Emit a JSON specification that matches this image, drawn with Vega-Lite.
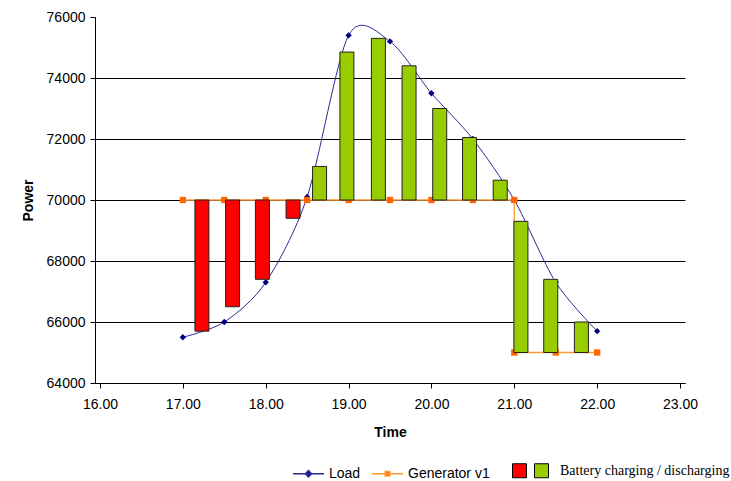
{
  "$schema": "https://vega.github.io/schema/vega-lite/v6.json",
  "width": 590,
  "height": 366,
  "autosize": {"type": "none"},
  "padding": {"left": 95, "top": 17, "right": 46, "bottom": 98},
  "background": "white",
  "config": {
    "view": {"stroke": null},
    "font": "Liberation Sans",
    "axis": {
      "labelFont": "Liberation Sans",
      "labelFontSize": 14,
      "labelColor": "#000",
      "titleFont": "Liberation Sans",
      "titleFontSize": 14,
      "titleFontWeight": "bold",
      "titleColor": "#000",
      "domainColor": "#000",
      "tickColor": "#000",
      "tickSize": 5
    }
  },
  "datasets": {
    "load": [
      {"series": "Load", "time": 17.0, "power": 65500},
      {"series": "Load", "time": 17.5, "power": 66000},
      {"series": "Load", "time": 18.0, "power": 67300},
      {"series": "Load", "time": 18.5, "power": 70100},
      {"series": "Load", "time": 19.0, "power": 75400},
      {"series": "Load", "time": 19.5, "power": 75200},
      {"series": "Load", "time": 20.0, "power": 73500},
      {"series": "Load", "time": 20.5, "power": 72000},
      {"series": "Load", "time": 21.0, "power": 70000},
      {"series": "Load", "time": 21.5, "power": 67300},
      {"series": "Load", "time": 22.0, "power": 65700}
    ],
    "gen": [
      {"series": "Generator v1", "ord": 1, "time": 17.0, "power": 70000},
      {"series": "Generator v1", "ord": 2, "time": 17.5, "power": 70000},
      {"series": "Generator v1", "ord": 3, "time": 18.0, "power": 70000},
      {"series": "Generator v1", "ord": 4, "time": 18.5, "power": 70000},
      {"series": "Generator v1", "ord": 5, "time": 19.0, "power": 70000},
      {"series": "Generator v1", "ord": 6, "time": 19.5, "power": 70000},
      {"series": "Generator v1", "ord": 7, "time": 20.0, "power": 70000},
      {"series": "Generator v1", "ord": 8, "time": 20.5, "power": 70000},
      {"series": "Generator v1", "ord": 9, "time": 21.0, "power": 70000},
      {"series": "Generator v1", "ord": 10, "time": 21.0, "power": 65000},
      {"series": "Generator v1", "ord": 11, "time": 21.5, "power": 65000},
      {"series": "Generator v1", "ord": 12, "time": 22.0, "power": 65000}
    ],
    "battery": [
      {"kind": "charging", "time": 17.23, "low": 65700, "high": 70000},
      {"kind": "charging", "time": 17.6, "low": 66500, "high": 70000},
      {"kind": "charging", "time": 17.96, "low": 67400, "high": 70000},
      {"kind": "charging", "time": 18.33, "low": 69400, "high": 70000},
      {"kind": "discharging", "time": 18.65, "low": 70000, "high": 71100},
      {"kind": "discharging", "time": 18.98, "low": 70000, "high": 74850},
      {"kind": "discharging", "time": 19.36, "low": 70000, "high": 75300},
      {"kind": "discharging", "time": 19.73, "low": 70000, "high": 74400},
      {"kind": "discharging", "time": 20.1, "low": 70000, "high": 73000},
      {"kind": "discharging", "time": 20.46, "low": 70000, "high": 72050},
      {"kind": "discharging", "time": 20.83, "low": 70000, "high": 70650},
      {"kind": "discharging", "time": 21.08, "low": 65000, "high": 69300},
      {"kind": "discharging", "time": 21.44, "low": 65000, "high": 67400},
      {"kind": "discharging", "time": 21.81, "low": 65000, "high": 66000}
    ]
  },
  "encoding": {
    "x": {
      "field": "time",
      "type": "quantitative",
      "scale": {"domain": [16, 23], "nice": false, "zero": false},
      "axis": {
        "values": [16, 17, 18, 19, 20, 21, 22, 23],
        "format": ".2f",
        "title": "Time",
        "grid": false,
        "labelPadding": 9,
        "titlePadding": 14
      }
    },
    "y": {
      "field": "power",
      "type": "quantitative",
      "scale": {"domain": [64000, 76000], "nice": false, "zero": false},
      "axis": {
        "values": [64000, 66000, 68000, 70000, 72000, 74000, 76000],
        "format": "d",
        "title": "Power",
        "labelPadding": 5,
        "titlePadding": 11,
        "grid": true,
        "gridColor": {"condition": {"test": "datum.value >= 76000", "value": "transparent"}, "value": "#000"},
        "gridWidth": 1,
        "gridOpacity": 1
      }
    }
  },
  "layer": [
    {
      "data": {"name": "load"},
      "mark": {"type": "line", "interpolate": "cardinal", "tension": 0.15, "strokeWidth": 1, "clip": true},
      "encoding": {
        "color": {
          "field": "series",
          "type": "nominal",
          "scale": {"domain": ["Load", "Generator v1"], "range": ["#2a2a96", "#ff9a33"]},
          "legend": {
            "title": null,
            "orient": "none",
            "legendX": 197,
            "legendY": 440,
            "direction": "horizontal",
            "symbolSize": 961,
            "symbolStrokeWidth": 1.5,
            "labelFont": "Liberation Sans",
            "labelFontSize": 14,
            "labelColor": "#000",
            "labelOffset": 4,
            "columnPadding": 8,
            "encode": {
              "symbols": {
                "update": {
                  "shape": {"signal": "datum.value === 'Load' ? 'M-1,0H1M-0.2,0L0,-0.2L0.2,0L0,0.2Z' : 'M-1,0H1M-0.15,-0.15H0.15V0.15H-0.15Z'"},
                  "fill": {"signal": "datum.value === 'Load' ? '#000080' : '#ff6600'"},
                  "stroke": {"signal": "datum.value === 'Load' ? '#2a2a96' : '#ff9a33'"},
                  "strokeWidth": {"value": 1.5}
                }
              }
            }
          }
        }
      }
    },
    {
      "data": {"name": "gen"},
      "mark": {"type": "line", "strokeWidth": 1.3},
      "encoding": {
        "color": {"field": "series", "type": "nominal"},
        "order": {"field": "ord", "type": "quantitative"}
      }
    },
    {
      "data": {"name": "load"},
      "mark": {"type": "point", "shape": "diamond", "filled": true, "size": 40, "color": "#000080", "opacity": 1}
    },
    {
      "data": {"name": "gen"},
      "mark": {"type": "square", "size": 40, "color": "#ff6600", "opacity": 1}
    },
    {
      "data": {"name": "battery"},
      "mark": {"type": "bar", "width": 14, "stroke": "#222", "strokeWidth": 1},
      "encoding": {
        "y": {"field": "low", "type": "quantitative"},
        "y2": {"field": "high"},
        "fill": {
          "field": "kind",
          "type": "nominal",
          "scale": {"domain": ["charging", "discharging"], "range": ["#ff0000", "#99cc00"]},
          "legend": {
            "title": "Battery charging / discharging",
            "titleOrient": "right",
            "titleFont": "Liberation Serif",
            "titleFontSize": 14,
            "titleFontWeight": "normal",
            "titleColor": "#000",
            "titlePadding": 6,
            "titleBaseline": "middle",
            "titleAnchor": "middle",
            "titleLimit": 300,
            "orient": "none",
            "legendX": 417,
            "legendY": 446,
            "direction": "horizontal",
            "symbolType": "square",
            "symbolSize": 196,
            "symbolStrokeColor": "#000",
            "symbolStrokeWidth": 1,
            "symbolOpacity": 1,
            "labelFontSize": 14,
            "labelOffset": 5,
            "columnPadding": 0,
            "labelExpr": "''"
          }
        }
      }
    }
  ]
}
